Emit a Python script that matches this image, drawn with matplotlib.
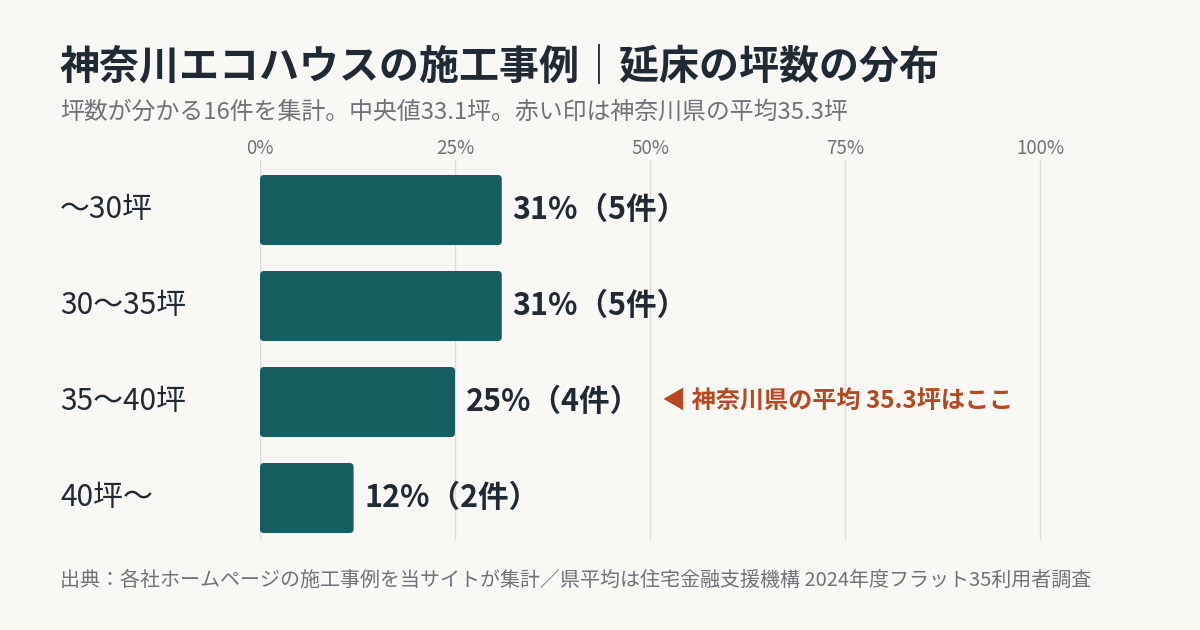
import matplotlib
matplotlib.use("Agg")
import matplotlib.pyplot as plt
import matplotlib.transforms as mtransforms
from matplotlib.patches import FancyBboxPatch

plt.rcParams['font.family'] = ['Noto Sans CJK JP', 'DejaVu Sans']

# データ
categories = ["～30坪", "30～35坪", "35～40坪", "40坪～"]
counts = [5, 5, 4, 2]
shares = [31, 31, 25, 12]   # 表示上の割合（%）
bar_labels = ["31%（5件）", "31%（5件）", "25%（4件）", "12%（2件）"]
ticks = [0, 25, 50, 75, 100]
tick_labels = ["0%", "25%", "50%", "75%", "100%"]
avg_row = 2
avg_note = "◀ 神奈川県の平均 35.3坪はここ"

title = "神奈川エコハウスの施工事例｜延床の坪数の分布"
subtitle = "坪数が分かる16件を集計。中央値33.1坪。赤い印は神奈川県の平均35.3坪"
source = "出典：各社ホームページの施工事例を当サイトが集計／県平均は住宅金融支援機構 2024年度フラット35利用者調査"

BG = "#f9f8f5"
BAR = "#175e63"
DARK = "#1f2a35"
GRAY = "#6e737a"
RED = "#b9471f"
GRID = "#dcdbd5"

fig = plt.figure(figsize=(12, 6.3), dpi=100, facecolor=BG)
# 0%→260px, 100%→1040px（右端のグリッド線が切れないよう少し余白）
ax = fig.add_axes([260 / 1200, 90 / 630, 782 / 1200, 380 / 630])
ax.set_facecolor(BG)

ax.set_xlim(0, 100 * 782 / 780)
ax.set_ylim(3 + 42 / 96, -50 / 96)

bar_h = 70 / 96
px_x = 7.8   # px per percent
px_y = 96.0  # px per row
rad = 4 / px_x
for i, v in enumerate(shares):
    p = FancyBboxPatch((0, i - bar_h / 2), v, bar_h,
                       boxstyle="round,pad=0,rounding_size=%.3f" % rad,
                       mutation_aspect=px_x / px_y,
                       facecolor=BAR, edgecolor="none", zorder=3)
    ax.add_patch(p)
    ax.text(v + 1.4, i, bar_labels[i], va="center", ha="left",
            fontsize=22, fontweight="bold", color=DARK, zorder=4)

ax.text(51.5, avg_row, avg_note, va="center", ha="left",
        fontsize=17.4, fontweight="bold", color=RED, zorder=4)

# 縦グリッド
ax.set_xticks(ticks)
ax.set_xticklabels(tick_labels)
ax.xaxis.tick_top()
ax.tick_params(axis="x", length=0, pad=1, labelsize=13.5, labelcolor=GRAY)
ax.set_yticks([])
ax.grid(axis="x", color=GRID, linewidth=1, zorder=0)
for s in ax.spines.values():
    s.set_visible(False)

# カテゴリ名
trans = mtransforms.blended_transform_factory(fig.transFigure, ax.transData)
for i, c in enumerate(categories):
    ax.text(60 / 1200, i, c, transform=trans, va="center", ha="left",
            fontsize=21.5, color=DARK)

fig.text(60 / 1200, 1 - 67 / 630, title, fontsize=28.8, fontweight="bold",
         color=DARK, va="center", ha="left")
fig.text(60 / 1200, 1 - 112 / 630, subtitle, fontsize=17.2,
         color=GRAY, va="center", ha="left")
fig.text(60 / 1200, 1 - 580 / 630, source, fontsize=14.4,
         color=GRAY, va="center", ha="left")

fig.savefig("out.png", dpi=100, facecolor=BG)
